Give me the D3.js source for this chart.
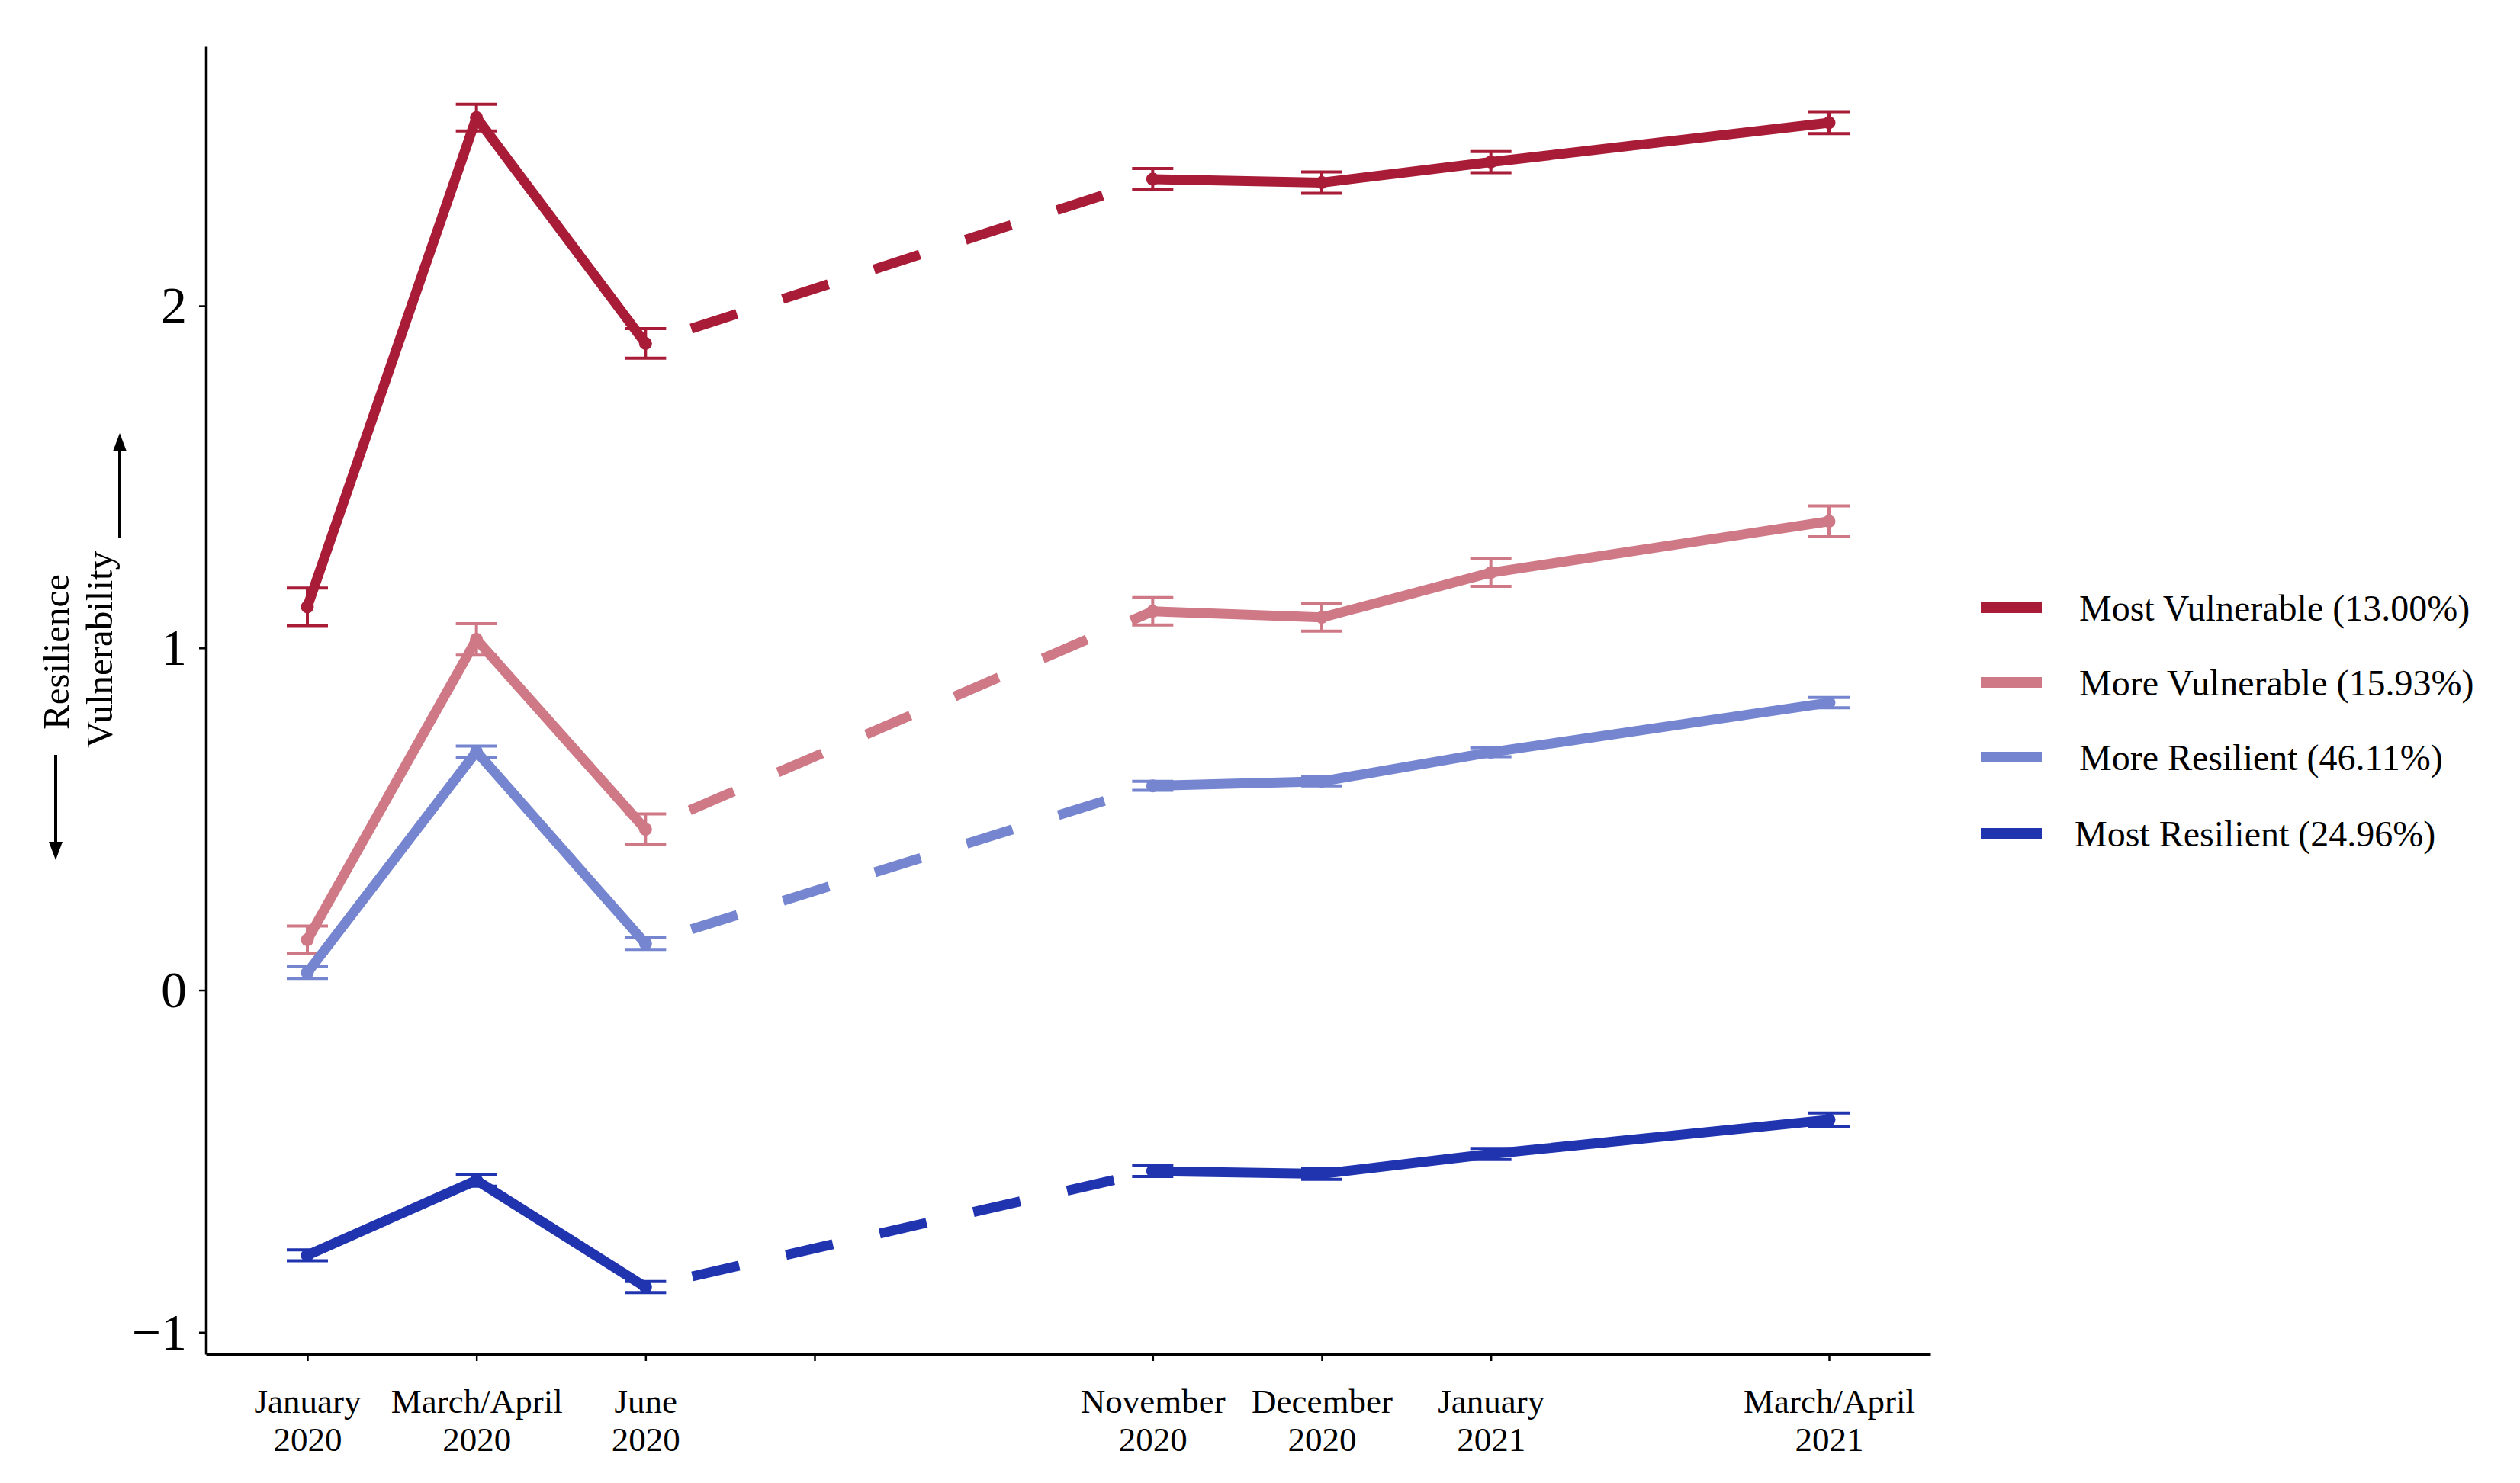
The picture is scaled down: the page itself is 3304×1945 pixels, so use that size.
<!DOCTYPE html>
<html>
<head>
<meta charset="utf-8">
<script src="https://cdn.jsdelivr.net/npm/d3@7"></script>
<style>
  body { margin: 0; background: #fff; }
</style>
</head>
<body>
<div id="grafico"></div>
<script>
// datos
var tickPos = [1, 2, 3, 4, 6, 7, 8, 10];
var tickLabels = [["January", "2020"], ["March/April", "2020"], ["June", "2020"], ["", ""],
                  ["November", "2020"], ["December", "2020"], ["January", "2021"], ["March/April", "2021"]];
var wavePos = [1, 2, 3, 6, 7, 8, 10];
var yTicks = [-1, 0, 1, 2];

var groups = ["Most Vulnerable (13.00%)", "More Vulnerable (15.93%)", "More Resilient (46.11%)", "Most Resilient (24.96%)"];
var colors = ["#a81c38", "#cf7886", "#7585d0", "#2034b0"];

var mostVulnerable   = [1.12, 2.55, 1.89, 2.37, 2.36, 2.42, 2.535];
var mostVulnerableSE = [0.055, 0.039, 0.043, 0.031, 0.031, 0.031, 0.032];
var moreVulnerable   = [0.147, 1.025, 0.47, 1.107, 1.089, 1.22, 1.37];
var moreVulnerableSE = [0.04, 0.046, 0.045, 0.04, 0.04, 0.04, 0.045];
var moreResilient    = [0.051, 0.697, 0.136, 0.597, 0.61, 0.695, 0.84];
var moreResilientSE  = [0.017, 0.016, 0.017, 0.013, 0.013, 0.013, 0.015];
var mostResilient    = [-0.775, -0.556, -0.868, -0.529, -0.537, -0.479, -0.379];
var mostResilientSE  = [0.016, 0.017, 0.016, 0.016, 0.016, 0.016, 0.02];

var values = [mostVulnerable, moreVulnerable, moreResilient, mostResilient];
var errors = [mostVulnerableSE, moreVulnerableSE, moreResilientSE, mostResilientSE];

var ancho = 3304;
var alto = 1945;
var fuente = "'Liberation Serif', 'DejaVu Serif', serif";

var svg = d3.select("#grafico")
  .append("svg")
  .attr("width", ancho)
  .attr("height", alto);

var x = d3.scaleLinear()
  .domain([0.4, 10.6])
  .range([270, 2531]);

var y = d3.scaleLinear()
  .domain([-1.064, 2.76])
  .range([1776, 60]);

// eje y
var ejeY = svg.append("g")
  .attr("transform", "translate(" + x.range()[0] + ",0)")
  .call(d3.axisLeft(y).tickValues(yTicks).tickSize(9).tickSizeOuter(0).tickPadding(16)
    .tickFormat(d3.format("d")));
ejeY.select(".domain").attr("stroke-width", 3.5);
ejeY.selectAll(".tick line").attr("stroke-width", 2.5);
ejeY.selectAll(".tick text")
  .attr("font-family", fuente)
  .attr("font-size", 68)
  .attr("fill", "black");

// eje x
var ejeX = svg.append("g")
  .attr("transform", "translate(0," + y.range()[0] + ")")
  .call(d3.axisBottom(x).tickValues(tickPos).tickSize(9).tickSizeOuter(0).tickFormat(""));
ejeX.select(".domain").attr("stroke-width", 3.5);
ejeX.selectAll(".tick line").attr("stroke-width", 2.5);
ejeX.selectAll(".tick").each(function(d, i) {
  var t = d3.select(this).append("text")
    .attr("font-family", fuente)
    .attr("font-size", 45)
    .attr("fill", "black")
    .attr("text-anchor", "middle");
  t.append("tspan").attr("x", 0).attr("y", 77).text(tickLabels[i][0]);
  t.append("tspan").attr("x", 0).attr("y", 127).text(tickLabels[i][1]);
});

// etiqueta del eje y con flechas
svg.append("text")
  .text("Resilience")
  .attr("transform", "translate(90,855) rotate(-90)")
  .attr("text-anchor", "middle")
  .attr("font-family", fuente)
  .attr("font-size", 49)
  .attr("fill", "black");

svg.append("text")
  .text("Vulnerability")
  .attr("transform", "translate(147,852) rotate(-90)")
  .attr("text-anchor", "middle")
  .attr("font-family", fuente)
  .attr("font-size", 49)
  .attr("fill", "black");

svg.append("line")
  .attr("x1", 73).attr("y1", 990).attr("x2", 73).attr("y2", 1108)
  .attr("stroke", "black").attr("stroke-width", 4);
svg.append("path")
  .attr("d", "M64,1104 L82,1104 L73,1128 Z")
  .attr("fill", "black");

svg.append("line")
  .attr("x1", 157).attr("y1", 706).attr("x2", 157).attr("y2", 588)
  .attr("stroke", "black").attr("stroke-width", 4);
svg.append("path")
  .attr("d", "M148,592 L166,592 L157,568 Z")
  .attr("fill", "black");

// barras de error
var capa = svg.append("g").attr("class", "errores");
values.forEach(function(serie, s) {
  serie.forEach(function(v, i) {
    var e = errors[s][i];
    var cx = x(wavePos[i]);
    capa.append("line")
      .attr("x1", cx).attr("x2", cx)
      .attr("y1", y(v - e)).attr("y2", y(v + e))
      .attr("stroke", colors[s]).attr("stroke-width", 4);
    [v - e, v + e].forEach(function(c) {
      capa.append("line")
        .attr("x1", cx - 27).attr("x2", cx + 27)
        .attr("y1", y(c)).attr("y2", y(c))
        .attr("stroke", colors[s]).attr("stroke-width", 4);
    });
  });
});

// lineas: solida, punteada entre junio y noviembre, solida
var linea = d3.line()
  .x(function(d) { return x(d[0]); })
  .y(function(d) { return y(d[1]); });

var tramos = [[0, 3, false], [2, 4, true], [3, 7, false]];
var capaLineas = svg.append("g").attr("class", "lineas");
values.forEach(function(serie, s) {
  var pts = serie.map(function(v, i) { return [wavePos[i], v]; });
  tramos.forEach(function(t) {
    var p = capaLineas.append("path")
      .datum(pts.slice(t[0], t[1]))
      .attr("d", linea)
      .attr("fill", "none")
      .attr("stroke", colors[s])
      .attr("stroke-width", 13)
      .attr("stroke-linejoin", "round");
    if (t[2]) {
      p.attr("stroke-dasharray", "63,63").attr("stroke-dashoffset", 63);
    } else {
      p.attr("stroke-linecap", "round");
    }
  });
});

// puntos
var capaPuntos = svg.append("g").attr("class", "puntos");
values.forEach(function(serie, s) {
  capaPuntos.selectAll(".p" + s)
    .data(serie)
    .enter()
    .append("circle")
    .attr("class", "p" + s)
    .attr("cx", function(d, i) { return x(wavePos[i]); })
    .attr("cy", function(d) { return y(d); })
    .attr("r", 8.5)
    .attr("fill", colors[s]);
});

// leyenda
var leyenda = svg.append("g").attr("class", "leyenda");
var filas = [797, 895, 993, 1093];
var textoX = [2726, 2726, 2726, 2720];

leyenda.selectAll("line")
  .data(groups)
  .enter()
  .append("line")
  .attr("x1", 2597).attr("x2", 2677)
  .attr("y1", function(d, i) { return filas[i]; })
  .attr("y2", function(d, i) { return filas[i]; })
  .attr("stroke", function(d, i) { return colors[i]; })
  .attr("stroke-width", 14);

leyenda.selectAll("text")
  .data(groups)
  .enter()
  .append("text")
  .text(function(d) { return d; })
  .attr("x", function(d, i) { return textoX[i]; })
  .attr("y", function(d, i) { return filas[i]; })
  .attr("dy", "0.35em")
  .attr("font-family", fuente)
  .attr("font-size", 48)
  .attr("fill", "black");
</script>
</body>
</html>
